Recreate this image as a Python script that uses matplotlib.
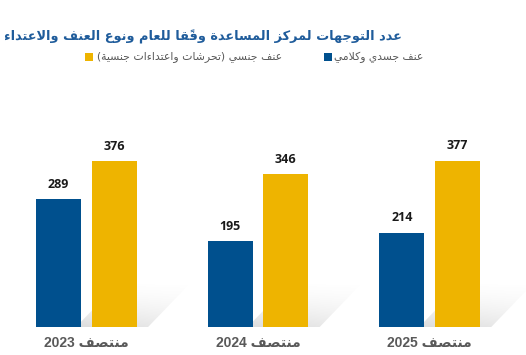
import numpy as np
import matplotlib
matplotlib.use("Agg")
import matplotlib.pyplot as plt
from matplotlib.patches import Polygon, Rectangle

# ---------------- data ----------------
title = "عدد التوجهات لمركز المساعدة وفقًا للعام ونوع العنف والاعتداء"
categories = ["منتصف 2023", "منتصف 2024", "منتصف 2025"]
series_names = ["عنف جسدي وكلامي", "عنف جنسي (تحرشات واعتداءات جنسية)"]
physical_verbal = [289, 195, 214]
sexual = [376, 346, 377]
colors = ["#00508E", "#EEB400"]

# ---------------- minimal Arabic shaping + RTL ordering ----------------
_TABLE = [
    (0x0621, 0xFE80, 1), (0x0622, 0xFE81, 2), (0x0623, 0xFE83, 2), (0x0624, 0xFE85, 2),
    (0x0625, 0xFE87, 2), (0x0626, 0xFE89, 4), (0x0627, 0xFE8D, 2), (0x0628, 0xFE8F, 4),
    (0x0629, 0xFE93, 2), (0x062A, 0xFE95, 4), (0x062B, 0xFE99, 4), (0x062C, 0xFE9D, 4),
    (0x062D, 0xFEA1, 4), (0x062E, 0xFEA5, 4), (0x062F, 0xFEA9, 2), (0x0630, 0xFEAB, 2),
    (0x0631, 0xFEAD, 2), (0x0632, 0xFEAF, 2), (0x0633, 0xFEB1, 4), (0x0634, 0xFEB5, 4),
    (0x0635, 0xFEB9, 4), (0x0636, 0xFEBD, 4), (0x0637, 0xFEC1, 4), (0x0638, 0xFEC5, 4),
    (0x0639, 0xFEC9, 4), (0x063A, 0xFECD, 4), (0x0641, 0xFED1, 4), (0x0642, 0xFED5, 4),
    (0x0643, 0xFED9, 4), (0x0644, 0xFEDD, 4), (0x0645, 0xFEE1, 4), (0x0646, 0xFEE5, 4),
    (0x0647, 0xFEE9, 4), (0x0648, 0xFEED, 2), (0x0649, 0xFEEF, 2), (0x064A, 0xFEF1, 4),
]
FORMS = {chr(b): (s, n) for b, s, n in _TABLE}
TRANSP = set(chr(c) for c in list(range(0x064B, 0x0653)) + [0x0670])
LAMALEF = {"\u0622": ("\uFEF5", "\uFEF6"), "\u0623": ("\uFEF7", "\uFEF8"),
           "\u0625": ("\uFEF9", "\uFEFA"), "\u0627": ("\uFEFB", "\uFEFC")}
MIRROR = {"(": ")", ")": "("}


def _shape(s):
    ch = list(s)
    n = len(ch)

    def prev_l(i):
        j = i - 1
        while j >= 0 and ch[j] in TRANSP:
            j -= 1
        return j

    def next_l(i):
        k = i + 1
        while k < n and ch[k] in TRANSP:
            k += 1
        return k

    out = []
    i = 0
    while i < n:
        c = ch[i]
        if c not in FORMS:
            out.append(c)
            i += 1
            continue
        j = prev_l(i)
        pc = j >= 0 and ch[j] in FORMS and FORMS[ch[j]][1] == 4
        k = next_l(i)
        if c == "\u0644" and k < n and ch[k] in LAMALEF:
            iso, fin = LAMALEF[ch[k]]
            out.append(fin if pc else iso)
            out.extend(ch[i + 1:k])
            i = k + 1
            continue
        start, nf = FORMS[c]
        nc = nf == 4 and k < n and ch[k] in FORMS
        if nf == 1:
            f = 0
        elif nf == 2:
            f = 1 if pc else 0
        else:
            f = {(False, False): 0, (True, False): 1, (False, True): 2, (True, True): 3}[(pc, nc)]
        out.append(chr(start + f))
        i += 1
    return out


def ar(s):
    sh = _shape(s)
    toks = []
    i = 0
    while i < len(sh):
        c = sh[i]
        if c.isascii() and c.isdigit():
            j = i
            while j < len(sh) and sh[j].isascii() and (sh[j].isdigit() or sh[j] in ".,"):
                j += 1
            toks.append("".join(sh[i:j]))
            i = j
        else:
            j = i + 1
            while j < len(sh) and sh[j] in TRANSP:
                j += 1
            t = "".join(sh[i:j])
            toks.append(MIRROR.get(t, t))
            i = j
    return "".join(reversed(toks))


# ---------------- figure ----------------
W, H = 526, 355
fig = plt.figure(figsize=(W / 100, H / 100), dpi=100)
fig.patch.set_facecolor("white")

base_px = 28
top_px = H - 90
group_px = 171.6
first_px = 86.3
ax = fig.add_axes([0, base_px / H, 1, (top_px - base_px) / H])
ax.set_xlim(-first_px / group_px, (W - first_px) / group_px)
px_per_unit = 0.4415
ax.set_ylim(0, (top_px - base_px) / px_per_unit)
ax.axis("off")
ax.patch.set_alpha(0)

x = np.arange(len(categories))
bw = 45 / group_px
off = 27.7 / group_px

# soft cast shadow behind each group
for xi in x:
    x0, x1 = xi - 0.08, xi + 0.62
    y1 = 105
    poly = [(xi - 0.06, 0), (xi + 0.36, 0), (xi + 0.62, y1), (xi + 0.20, y1)]
    patch = Polygon(poly, closed=True, facecolor="none", edgecolor="none")
    ax.add_patch(patch)
    ny, nx = 80, 120
    yy, xx = np.mgrid[0:ny, 0:nx]
    v = yy / (ny - 1)
    h = xx / (nx - 1)
    a = 0.28 * (1 - v) ** 1.6 * (1 - 0.5 * h)
    img = np.zeros((ny, nx, 4))
    img[..., :3] = 0.5
    img[..., 3] = np.clip(a, 0, 1)
    im = ax.imshow(img, extent=(x0, x1, 0, y1), origin="lower",
                   aspect="auto", zorder=1, interpolation="bilinear")
    im.set_clip_path(patch)

b1 = ax.bar(x - off, physical_verbal, bw, color=colors[0], zorder=3)
b2 = ax.bar(x + off, sexual, bw, color=colors[1], zorder=3)

for bars, vals in ((b1, physical_verbal), (b2, sexual)):
    for r, v in zip(bars, vals):
        ax.annotate(str(v), (r.get_x() + r.get_width() / 2, v), xytext=(0, 10.5),
                    textcoords="offset points", ha="center", va="center",
                    fontsize=9, fontweight="bold", color="#1a1a1a",
                    family=["Open Sans", "DejaVu Sans"])

for xi, c in zip(x, categories):
    ax.annotate(ar(c), (xi, 0), xytext=(0, -11.5), textcoords="offset points",
                ha="center", va="center", fontsize=10, fontweight="bold",
                color="#595959", family=["Liberation Sans", "DejaVu Sans"])

fig.canvas.draw()
renderer = fig.canvas.get_renderer()


def fit(t, width_px):
    bb = t.get_window_extent(renderer)
    t.set_fontsize(t.get_fontsize() * width_px / bb.width)


# title
tt = fig.text(402 / W, 1 - 37 / H, ar(title), ha="right", va="center", fontsize=12,
              fontweight="bold", color="#1F5C9B", family="DejaVu Sans")
fit(tt, 396)

# legend (manual, RTL)
leg_y = 1 - 57 / H
for name, col, right_px, width_px, gap in ((series_names[0], colors[0], 423, 89, 1.5),
                                            (series_names[1], colors[1], 282, 185, 4)):
    t = fig.text(right_px / W, leg_y, ar(name), ha="right", va="center",
                 fontsize=8.5, color="#595959", family="DejaVu Sans")
    fit(t, width_px)
    bb = t.get_window_extent(renderer)
    sq = 8
    fig.patches.append(Rectangle(((bb.x0 - gap - sq) / W, leg_y - sq / 2 / H),
                                 sq / W, sq / H, transform=fig.transFigure,
                                 facecolor=col, edgecolor="none"))

fig.savefig("out.png", dpi=100, facecolor="white")
